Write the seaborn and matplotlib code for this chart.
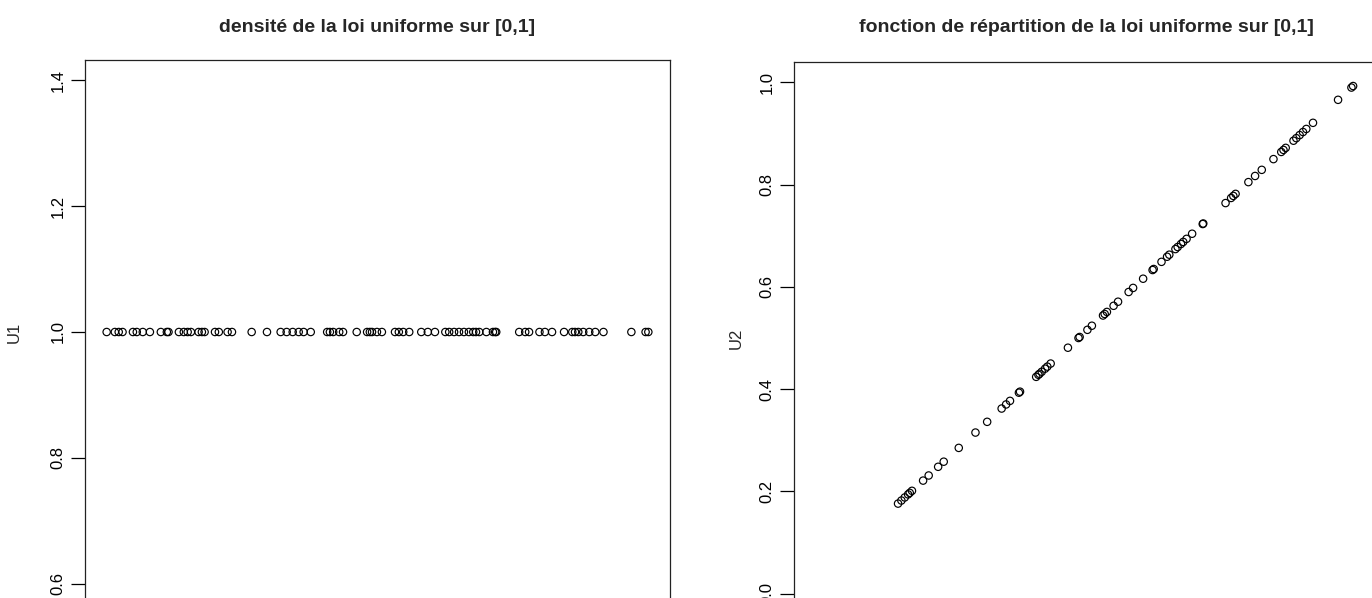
import matplotlib
matplotlib.use("Agg")
import matplotlib.pyplot as plt
import seaborn as sns
import pandas as pd

# ---- data ----
u1 = [0.005, 0.020, 0.027, 0.034, 0.053, 0.060, 0.071, 0.084, 0.104, 0.115,
      0.118, 0.137, 0.146, 0.153, 0.159, 0.173, 0.179, 0.184, 0.203, 0.210,
      0.226, 0.234, 0.270, 0.298, 0.323, 0.334, 0.345, 0.356, 0.365, 0.378,
      0.408, 0.413, 0.419, 0.430, 0.437, 0.462, 0.481, 0.486, 0.490, 0.499,
      0.508, 0.532, 0.539, 0.547, 0.558, 0.580, 0.592, 0.605, 0.624, 0.631,
      0.640, 0.649, 0.658, 0.667, 0.675, 0.680, 0.686, 0.699, 0.711, 0.715,
      0.717, 0.759, 0.770, 0.777, 0.796, 0.806, 0.819, 0.841, 0.856, 0.861,
      0.867, 0.876, 0.887, 0.898, 0.913, 0.964, 0.990, 0.995]
dens1 = [1.0] * len(u1)          # density of U[0,1] read as 1 everywhere

u2 = [0.176, 0.182, 0.188, 0.194, 0.197, 0.201, 0.221, 0.231, 0.248, 0.258,
      0.285, 0.315, 0.336, 0.362, 0.370, 0.377, 0.393, 0.395, 0.424, 0.428,
      0.430, 0.434, 0.440, 0.444, 0.450, 0.481, 0.500, 0.502, 0.516, 0.524,
      0.544, 0.547, 0.551, 0.563, 0.571, 0.590, 0.598, 0.616, 0.633, 0.635,
      0.649, 0.659, 0.663, 0.674, 0.678, 0.684, 0.688, 0.694, 0.704, 0.723,
      0.724, 0.764, 0.774, 0.778, 0.782, 0.805, 0.817, 0.829, 0.850, 0.864,
      0.868, 0.872, 0.886, 0.891, 0.897, 0.903, 0.909, 0.921, 0.966, 0.990,
      0.993]
cdf2 = u2                         # F(u) = u on [0,1], points on the diagonal

yticks1 = [0.6, 0.8, 1.0, 1.2, 1.4]
yticks2 = [0.0, 0.2, 0.4, 0.6, 0.8, 1.0]
title1 = "densité de la loi uniforme sur [0,1]"
title2 = "fonction de répartition de la loi uniforme sur [0,1]"

df1 = pd.DataFrame({"x": u1, "U1": dens1})
df2 = pd.DataFrame({"x": u2, "U2": cdf2})

sns.set_style("white")
plt.rcParams["font.family"] = ["Liberation Sans", "DejaVu Sans"]

W, H = 1372, 598
fig = plt.figure(figsize=(W / 100, H / 100), dpi=100)

def fx(px):
    return px / W

def fy(py):
    return 1 - py / H

# left axes: box x 85..670, top 60, height 544 px
ax1 = fig.add_axes([fx(85), fy(60 + 544), fx(585), 544 / H])
# right axes: box x 794..1379, top 62, height 552 px
ax2 = fig.add_axes([fx(794), fy(62 + 552), fx(585), 552 / H])

mk = dict(marker="o", s=28, facecolors="none", edgecolor="black",
          linewidth=0.85, legend=False)
sns.scatterplot(data=df1, x="x", y="U1", ax=ax1, **mk)
sns.scatterplot(data=df2, x="x", y="U2", ax=ax2, **mk)

ax1.set_xlim(-0.0346, 1.0346)
ax1.set_ylim(0.568, 1.432)
ax2.set_xlim(-0.0108, 1.0395)
ax2.set_ylim(-0.04, 1.04)

for ax, ticks in ((ax1, yticks1), (ax2, yticks2)):
    ax.set_yticks(ticks)
    ax.set_yticklabels([f"{t:.1f}" for t in ticks], rotation=90, va="center")
    ax.tick_params(axis="y", direction="out", length=10, width=0.9,
                   pad=4, labelsize=12, colors="black", left=True)
    ax.set_xticks([])
    ax.set_xlabel("")
    for sp in ax.spines.values():
        sp.set_color("#222222")
        sp.set_linewidth(0.9)
        sp.set_visible(True)

ax1.set_ylabel("U1", fontsize=12)
ax2.set_ylabel("U2", fontsize=12)
ax1.yaxis.set_label_coords(-0.108, 0.5)
ax2.yaxis.set_label_coords(-0.086, 0.5)

fig.text(fx((85 + 670) / 2), fy(27), title1, ha="center", va="center",
         fontsize=14, fontweight="bold")
fig.text(fx((794 + 1379) / 2), fy(27), title2, ha="center", va="center",
         fontsize=14, fontweight="bold")

fig.savefig("out.png", dpi=100)
